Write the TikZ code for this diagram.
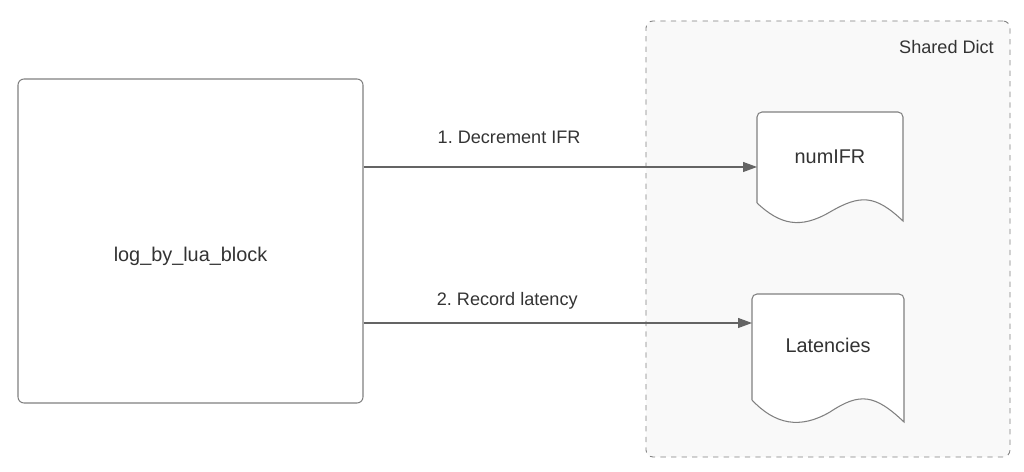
\documentclass[tikz,border=0pt]{standalone}
\usepackage{fontspec}
\setmainfont{Liberation Sans}
\usetikzlibrary{arrows.meta}
\definecolor{lcgray}{RGB}{128,128,128}
\definecolor{lcarrow}{RGB}{100,100,100}
\definecolor{lctext}{RGB}{51,51,51}
\definecolor{lcfill}{RGB}{249,249,249}
\frenchspacing

\begin{document}
\begin{tikzpicture}[
    box/.style={draw=lcgray,line width=0.6pt,rounded corners=0.12cm,fill=white},
    doc/.style={draw=lcgray,line width=0.6pt,fill=white},
    lbl/.style={text=lctext,font=\fontsize{11.3}{13.5}\selectfont},
    elbl/.style={text=lctext,font=\fontsize{10.3}{12.5}\selectfont},
    conn/.style={draw=lcarrow,line width=0.6pt,-{Triangle[length=0.28cm,width=0.2cm]}}]
\useasboundingbox (0,0) rectangle (20.48,9.44);

% Shared dict container
\node[draw=lcgray,dashed,line width=0.5pt,rounded corners=0.14cm,fill=lcfill,
      minimum width=7.28cm,minimum height=8.72cm] (dict) at (16.56,4.66) {};
\node[elbl,anchor=base east] (dictlbl) at (20.0,8.36) {Shared Dict};

% Lua block
\node[box,minimum width=6.9cm,minimum height=6.48cm] (lua) at (3.81,4.62) {};
\node[lbl] (luatext) at ([yshift=-0.3cm]lua.center) {log\_by\_lua\_block};

% Documents
\draw[doc] (15.14,5.38) [rounded corners=0.1cm] -- (15.14,7.20) -- (18.06,7.20)
    [sharp corners] -- (18.06,5.02)
    .. controls (17.5,5.55) and (17.2,5.55) .. (16.6,5.2)
    .. controls (16.0,4.85) and (15.6,4.95) .. (15.14,5.38);
\node[lbl] (numifr) at (16.6,6.3) {numIFR};
\coordinate (numin) at (15.14,6.10);

\draw[doc] (15.04,1.44) [rounded corners=0.1cm] -- (15.04,3.56) -- (18.08,3.56)
    [sharp corners] -- (18.08,1.0)
    .. controls (17.5,1.55) and (17.2,1.6) .. (16.6,1.2)
    .. controls (16.0,0.85) and (15.5,0.95) .. (15.04,1.44);
\node[lbl] (lat) at (16.56,2.54) {Latencies};
\coordinate (latin) at (15.04,2.98);

% Connections
\draw[conn] (lua.east |- numin) -- node[elbl,pos=0.37,above=0.34cm] (l1) {1. Decrement IFR} (numin);
\draw[conn] (lua.east |- latin) -- node[elbl,pos=0.37,above=0.14cm] (l2) {2. Record latency} (latin);
\end{tikzpicture}
\end{document}
